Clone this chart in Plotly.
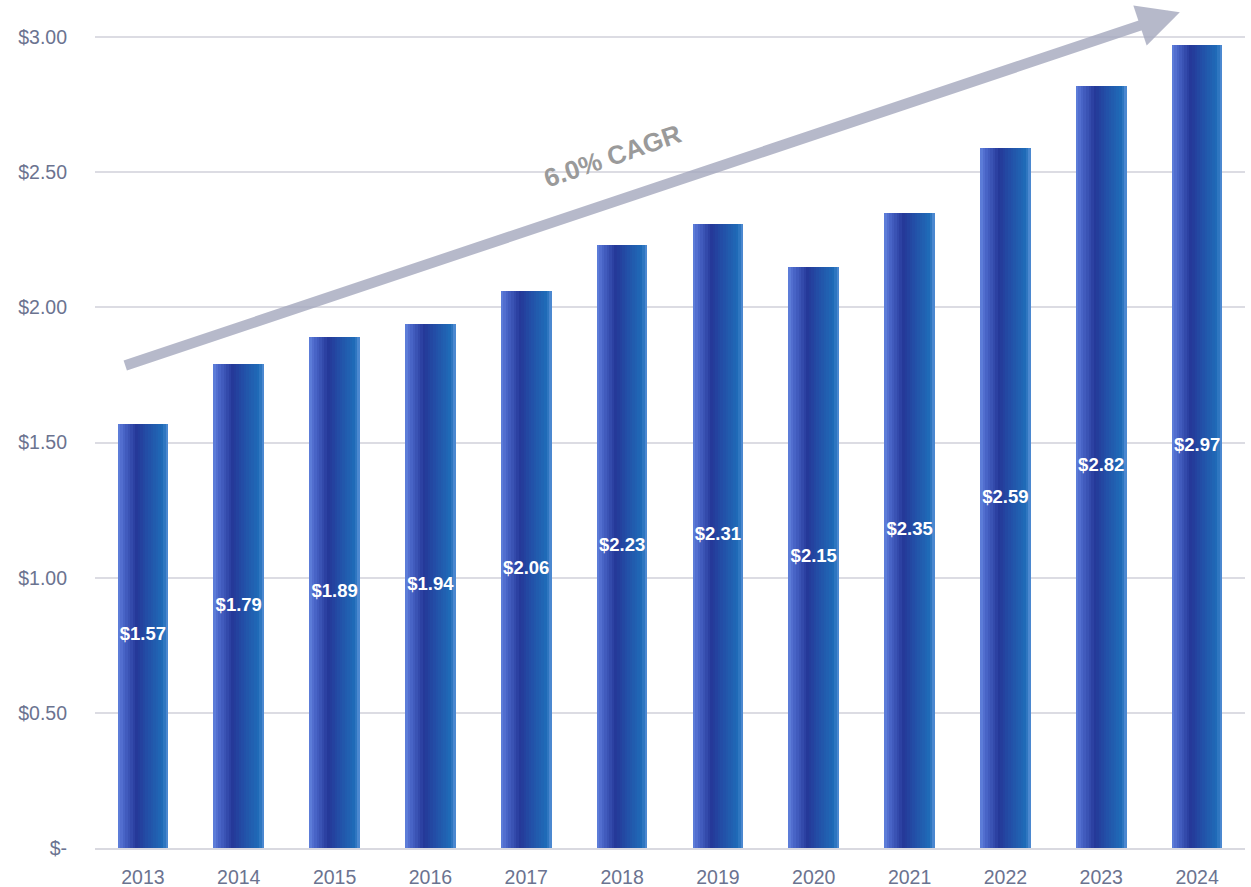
import plotly.graph_objects as go

years = ["2013", "2014", "2015", "2016", "2017", "2018", "2019", "2020", "2021", "2022", "2023", "2024"]
values = [1.57, 1.79, 1.89, 1.94, 2.06, 2.23, 2.31, 2.15, 2.35, 2.59, 2.82, 2.97]
tick_vals = [0, 0.5, 1.0, 1.5, 2.0, 2.5, 3.0]
tick_text = ["$-", "$0.50", "$1.00", "$1.50", "$2.00", "$2.50", "$3.00"]
cagr_label = "6.0% CAGR"

FONT = "Liberation Sans, Arial, sans-serif"

# horizontal gradient emulated by thin strips
stops = [(0.0, (0x62, 0x82, 0xdd)), (0.10, (0x4c, 0x68, 0xca)), (0.38, (0x24, 0x38, 0x98)),
         (0.58, (0x23, 0x4e, 0xa6)), (0.90, (0x1f, 0x6c, 0xb8)), (1.0, (0x5a, 0x92, 0xd8))]

def color_at(t):
    for (p0, c0), (p1, c1) in zip(stops[:-1], stops[1:]):
        if p0 <= t <= p1:
            f = (t - p0) / (p1 - p0) if p1 > p0 else 0
            c = [round(a + (b - a) * f) for a, b in zip(c0, c1)]
            return "rgb(%d,%d,%d)" % tuple(c)
    return "rgb(%d,%d,%d)" % stops[-1][1]

bar_w = 0.53
n = 20
sw = bar_w / n
fig = go.Figure()
for i in range(n):
    t = (i + 0.5) / n
    fig.add_trace(go.Bar(
        x=years, y=values, width=sw * 1.15 if i < n - 1 else sw, offset=-bar_w / 2 + i * sw,
        marker=dict(color=color_at(t), line=dict(width=0)),
        hoverinfo="skip", showlegend=False))

fig.add_trace(go.Scatter(
    x=years, y=[v / 2 for v in values], mode="text",
    text=["$%.2f" % v for v in values],
    textfont=dict(family=FONT, size=18.5, color="white", weight="bold"),
    hoverinfo="skip", showlegend=False))

# CAGR arrow
fig.add_annotation(x=10.82, y=3.092, ax=-0.2, ay=1.783, xref="x", yref="y", axref="x", ayref="y",
                   showarrow=True, arrowhead=2, arrowsize=0.8, arrowwidth=10.5,
                   arrowcolor="rgba(165,168,190,0.8)", text="")
fig.add_annotation(x=4.9, y=2.56, xref="x", yref="y", text=cagr_label, showarrow=False,
                   textangle=-19, font=dict(family=FONT, size=26, color="#9a9a9a", weight="bold"))

fig.update_layout(
    width=1251, height=887,
    margin=dict(l=95, r=6, t=10, b=39),
    paper_bgcolor="white", plot_bgcolor="white",
    barmode="overlay", bargap=0,
    xaxis=dict(type="category", range=[-0.5, 11.5], showgrid=False, showline=True,
               linecolor="#d9d9e0", linewidth=2, ticks="", ticklabelstandoff=11,
               automargin=False,
               tickfont=dict(family=FONT, size=19.5, color="#6b7390")),
    yaxis=dict(range=[0, 3.1], tickvals=tick_vals, ticktext=tick_text, showgrid=True,
               gridcolor="#dcdce3", gridwidth=1.5, zeroline=False, showline=False,
               ticklabelstandoff=27, automargin=False,
               tickfont=dict(family=FONT, size=19.5, color="#6b7390")),
)

fig.write_html("out.html")
